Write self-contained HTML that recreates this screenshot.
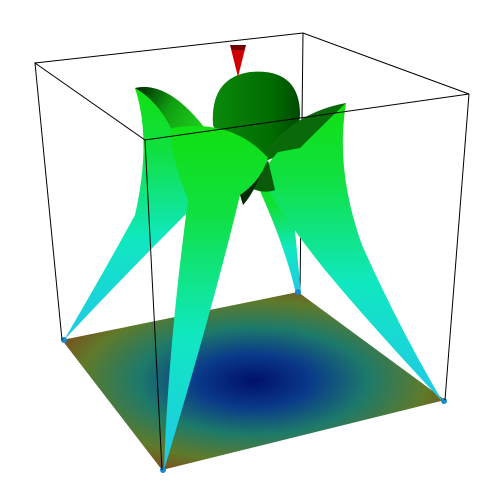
<!DOCTYPE html>
<html><head><style>body{margin:0;background:#fff}svg{display:block}</style></head>
<body>
<svg width="500" height="500" viewBox="0 0 500 500">
<defs>
<radialGradient id="floorG" cx="0.5" cy="0.5" r="0.6">
<stop offset="0" stop-color="#00106a"/><stop offset="0.25" stop-color="#0a3a8a"/>
<stop offset="0.5" stop-color="#1d7a6a"/><stop offset="0.75" stop-color="#5f7a2a"/><stop offset="1" stop-color="#8a3a1a"/>
</radialGradient>
<linearGradient id="legG" x1="0" y1="1" x2="0" y2="0">
<stop offset="0" stop-color="#20c8e8"/><stop offset="0.4" stop-color="#10e8c0"/><stop offset="0.75" stop-color="#10e040"/><stop offset="1" stop-color="#10e010"/>
</linearGradient>
<linearGradient id="domeG" x1="0" y1="0" x2="1" y2="0">
<stop offset="0" stop-color="#0a8a0a"/><stop offset="0.7" stop-color="#006a00"/><stop offset="1" stop-color="#004a00"/>
</linearGradient>
<linearGradient id="hornG" x1="0" y1="0" x2="1" y2="0.5">
<stop offset="0" stop-color="#002000"/><stop offset="0.5" stop-color="#10a010"/><stop offset="1" stop-color="#20d020"/>
</linearGradient>
</defs>
<polygon points="62,340 298,292 445,400 162,470" fill="url(#floorG)"/>
<line x1="303" y1="33" x2="300" y2="292" stroke="#000"/>
<!-- back leg -->
<path d="M255,180 Q285,245 296,294 L301,294 Q295,230 290,180 Z" fill="url(#legG)"/>
<!-- dome -->
<path d="M213,125 Q210,78 250,72 Q300,68 300,115 Q298,150 268,160 Q225,155 213,125 Z" fill="url(#domeG)"/>
<!-- left lobe -->
<path d="M135,88 Q170,80 210,135 Q205,190 185,215 Q120,280 64,340 Q105,270 135,215 Q152,140 135,88 Z" fill="url(#legG)"/>
<path d="M135,88 Q170,80 210,135 L180,150 Q165,105 135,88 Z" fill="url(#hornG)"/>
<!-- right lobe -->
<path d="M346,103 Q335,170 362,245 Q400,330 443,402 Q375,330 325,270 Q285,220 262,180 Q265,150 346,103 Z" fill="url(#legG)"/>
<path d="M346,103 Q295,112 262,155 L300,148 Q330,118 346,103 Z" fill="#0a6a0a"/>
<path d="M245,185 Q262,175 268,160 L275,190 Q262,195 245,185 Z" fill="#0a5a0a"/>
<!-- front lobe -->
<path d="M172,128 Q232,118 268,158 Q262,180 240,195 Q215,300 164,470 Q168,350 188,200 Q168,150 172,128 Z" fill="url(#legG)"/>
<path d="M240,195 Q262,180 268,158 Q255,192 243,205 Z" fill="#002a00"/>
<g fill="#1a8ad0">
<circle cx="64" cy="340" r="3"/><circle cx="298" cy="292" r="3"/><circle cx="444" cy="401" r="3"/><circle cx="163" cy="470" r="3"/>
</g>
<g stroke="#000" stroke-width="1" fill="none">
<polygon points="35,63 303,33 469,94 145,140"/>
<line x1="35" y1="63" x2="62" y2="340"/>
<line x1="469" y1="94" x2="445" y2="400"/>
<line x1="145" y1="140" x2="162" y2="470"/>
</g>
<polygon points="230,45 246,45 238,77" fill="#d00000"/>
<polygon points="230,45 246,45 244,50 232,50" fill="#700000"/>
</svg>
</body></html>
